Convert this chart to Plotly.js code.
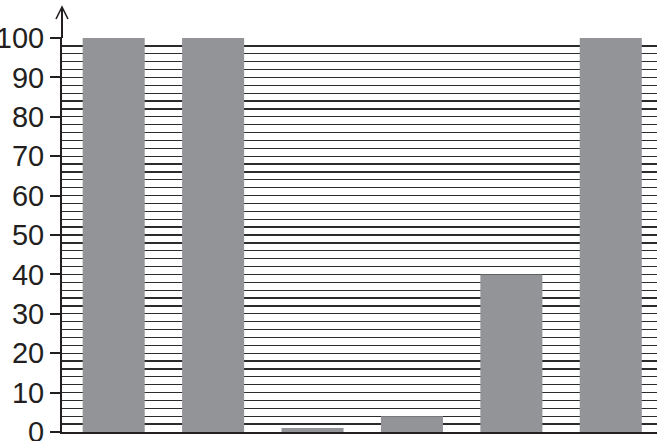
<!DOCTYPE html>
<html>
<head>
<meta charset="utf-8">
<script src="https://cdn.plot.ly/plotly-3.0.1.min.js"></script>
<style>
  html, body { margin: 0; padding: 0; background: #fff; }
  #chart { width: 661px; height: 441px; }
</style>
</head>
<body>
<div id="chart"></div>
<script>
// --- Data ---
const categories = ['1', '2', '3', '4', '5', '6'];
const values = [100, 100, 1, 4, 40, 100];
const tickValues = [0, 10, 20, 30, 40, 50, 60, 70, 80, 90, 100];
const gridValues = [0, 2, 4, 6, 8, 10, 12, 14, 16, 18, 20, 22, 24, 26, 28, 30, 32, 34, 36, 38, 40,
    42, 44, 46, 48, 50, 52, 54, 56, 58, 60, 62, 64, 66, 68, 70, 72, 74, 76, 78, 80,
    82, 84, 86, 88, 90, 92, 94, 96, 98, 100];

const barTrace = {
    type: 'bar',
    x: categories,
    y: values,
    marker: { color: '#939497', line: { width: 0 } },
    hoverinfo: 'x+y'
};

// invisible trace so the second y axis (labels + tick marks) gets drawn
const axisTrace = {
    type: 'scatter',
    x: categories,
    y: values,
    yaxis: 'y2',
    mode: 'markers',
    marker: { opacity: 0 },
    hoverinfo: 'skip'
};

const ink = '#231f20';
const gridColor = '#2b2b2b';

const layout = {
    width: 661,
    height: 441,
    margin: { l: 62, r: 4, t: 38, b: 9 },
    paper_bgcolor: '#fff',
    plot_bgcolor: '#fff',
    bargap: 0.376,
    showlegend: false,
    font: { family: 'Liberation Sans, Arial, sans-serif', color: ink },
    xaxis: {
        type: 'category',
        range: [-0.52, 5.465],
        showticklabels: false,
        ticks: '',
        showgrid: false,
        showline: true,
        linecolor: ink,
        linewidth: 2,
        fixedrange: true
    },
    // grid every 2 units, no marks or labels
    yaxis: {
        range: [0, 100],
        tickvals: gridValues,
        showticklabels: false,
        ticks: '',
        showline: true,
        linecolor: ink,
        linewidth: 2,
        showgrid: true,
        gridcolor: gridColor,
        gridwidth: 1.3,
        zeroline: false,
        fixedrange: true
    },
    // labels and tick marks every 10 units
    yaxis2: {
        overlaying: 'y',
        side: 'left',
        range: [0, 100],
        tickvals: tickValues,
        ticktext: tickValues.map(String),
        ticks: 'outside',
        ticklen: 11,
        tickwidth: 2,
        tickcolor: ink,
        ticklabelstandoff: 0,
        ticklabeloverflow: 'allow',
        tickfont: { size: 29, color: ink },
        showgrid: false,
        zeroline: false,
        showline: false,
        fixedrange: true
    },
    // axis arrow above the top of the y axis
    shapes: [
        {
            type: 'line', xref: 'paper', yref: 'paper',
            xsizemode: 'pixel', ysizemode: 'pixel', xanchor: 0, yanchor: 1,
            x0: 0, x1: 0, y0: 0, y1: 31,
            line: { color: ink, width: 2 }
        },
        {
            type: 'path', xref: 'paper', yref: 'paper',
            xsizemode: 'pixel', ysizemode: 'pixel', xanchor: 0, yanchor: 1,
            path: 'M-6,19 L0,31 L6,19',
            line: { color: ink, width: 1.6 }
        }
    ]
};

Plotly.newPlot('chart', [barTrace, axisTrace], layout, { displayModeBar: false, staticPlot: true });
</script>
</body>
</html>
